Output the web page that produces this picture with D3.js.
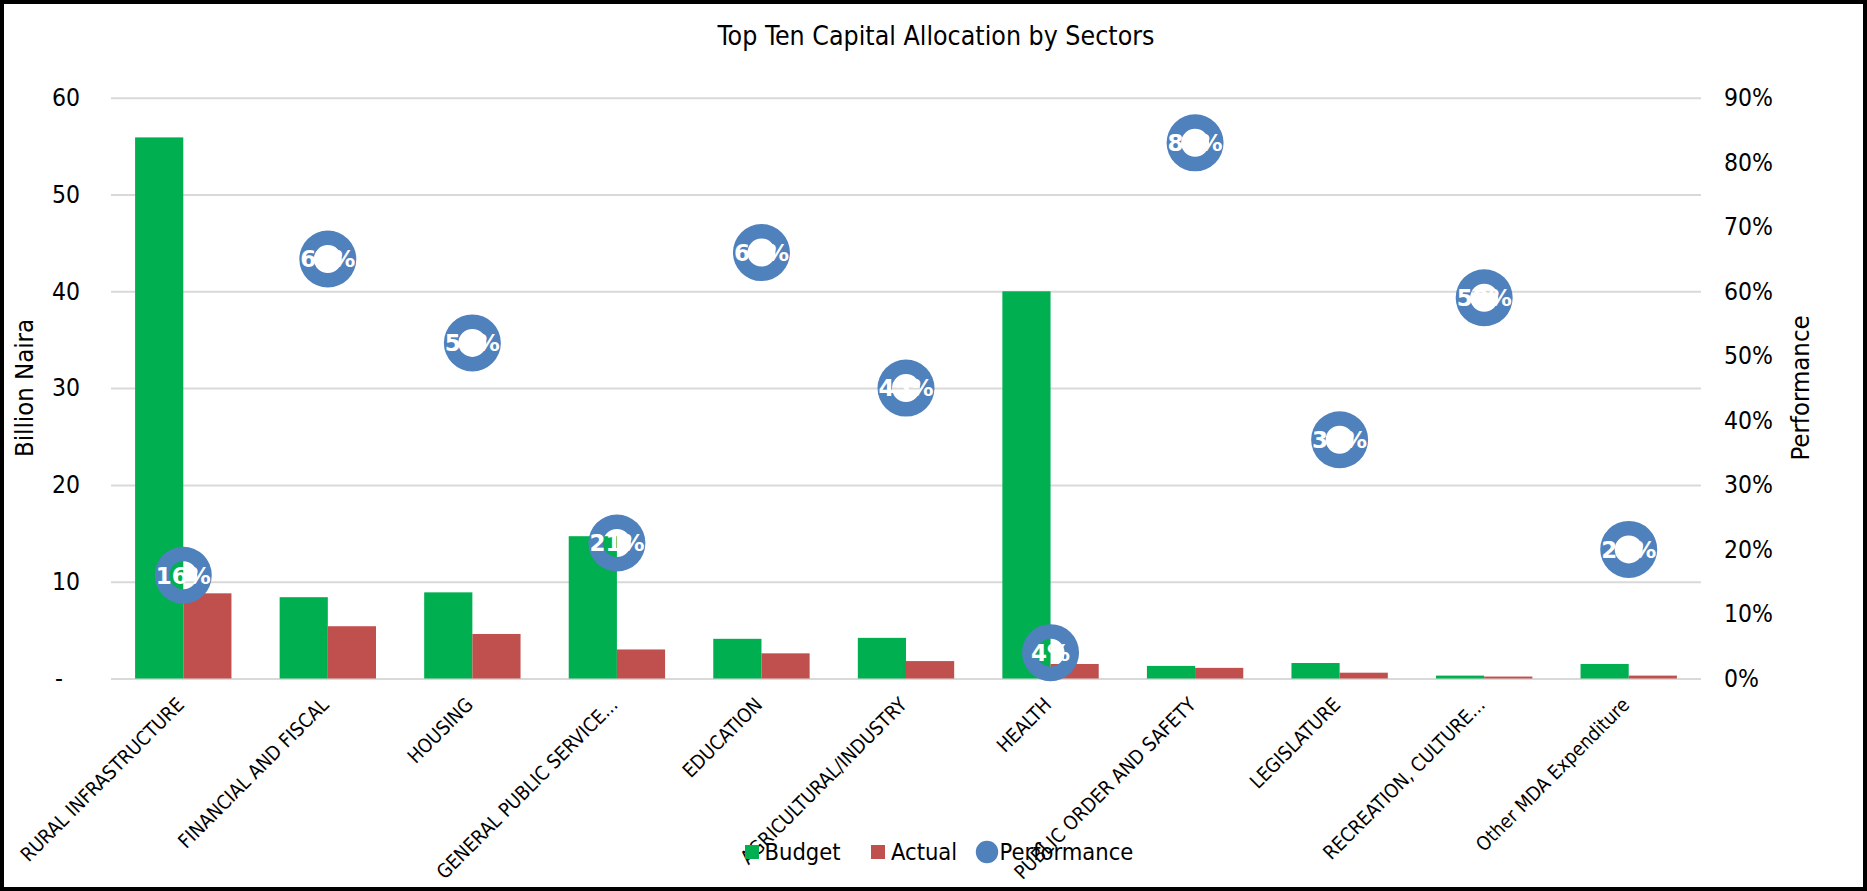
<!DOCTYPE html>
<html>
<head>
<meta charset="utf-8">
<script src="https://cdn.jsdelivr.net/npm/d3@7"></script>
<style>
  html, body { margin: 0; padding: 0; background: #fff; }
  svg { display: block; }
  text { font-family: "DejaVu Sans Condensed", "DejaVu Sans", sans-serif; font-stretch: condensed; fill: #000; }
</style>
</head>
<body>
<svg id="chart" width="1867" height="891"></svg>
<script>
// Sector capital allocation: budget vs actual (billion naira) and performance ratio
const categories = [
  "RURAL INFRASTRUCTURE",
  "FINANCIAL AND FISCAL",
  "HOUSING",
  "GENERAL PUBLIC SERVICE...",
  "EDUCATION",
  "AGRICULTURAL/INDUSTRY",
  "HEALTH",
  "PUBLIC ORDER AND SAFETY",
  "LEGISLATURE",
  "RECREATION, CULTURE...",
  "Other MDA Expenditure"
];
const budget = [55.9, 8.4, 8.9, 14.7, 4.1, 4.2, 40.0, 1.3, 1.6, 0.3, 1.5];
const actual = [8.8, 5.4, 4.6, 3.0, 2.6, 1.8, 1.5, 1.1, 0.6, 0.2, 0.3];
const performance = [0.16, 0.65, 0.52, 0.21, 0.66, 0.45, 0.04, 0.83, 0.37, 0.59, 0.20];
const seriesNames = ["Budget", "Actual", "Performance"];
const leftTicks = [0, 10, 20, 30, 40, 50, 60];
const rightTicks = [0, 0.1, 0.2, 0.3, 0.4, 0.5, 0.6, 0.7, 0.8, 0.9];

const colors = { Budget: "#00B050", Actual: "#C0504D", Performance: "#4F81BD" };

const W = 1867, H = 891;
const plot = { left: 111, right: 1701, top: 97.7, bottom: 678.5 };

const svg = d3.select("#chart");

// white page with a black frame
svg.append("rect").attr("x", 0).attr("y", 0).attr("width", W).attr("height", H).attr("fill", "#fff");

const x = d3.scaleBand().domain(categories).range([plot.left, plot.right])
  .paddingInner(1 / 3).paddingOuter(1 / 6);
const xs = d3.scaleBand().domain(["Budget", "Actual"]).range([0, x.bandwidth()]);
const y = d3.scaleLinear().domain([0, 60]).range([plot.bottom, plot.top]);
const yR = d3.scaleLinear().domain([0, 0.9]).range([plot.bottom, plot.top]);

// title
svg.append("text")
  .attr("x", 936).attr("y", 45)
  .attr("text-anchor", "middle")
  .style("font-size", "26.5px")
  .text("Top Ten Capital Allocation by Sectors");

// left axis with gridlines
const leftAxis = svg.append("g")
  .attr("transform", `translate(${plot.left},0)`)
  .call(d3.axisLeft(y).tickValues(leftTicks)
    .tickSize(-(plot.right - plot.left)).tickPadding(31)
    .tickFormat(d => d === 0 ? "-" : d3.format("d")(d)));
leftAxis.select(".domain").remove();
leftAxis.selectAll(".tick line").attr("stroke", "#d9d9d9").attr("stroke-width", 2);
leftAxis.selectAll(".tick text").style("font-size", "24.5px").attr("fill", "#000");
leftAxis.selectAll(".tick text").filter(d => d === 0).attr("dx", -17);

// right axis (performance)
const rightAxis = svg.append("g")
  .attr("transform", `translate(${plot.right},0)`)
  .call(d3.axisRight(yR).tickValues(rightTicks).tickSize(0).tickPadding(23)
    .tickFormat(d3.format(".0%")));
rightAxis.select(".domain").remove();
rightAxis.selectAll(".tick text").style("font-size", "24.5px").attr("fill", "#000");

// axis titles
svg.append("text")
  .attr("transform", "translate(33,388) rotate(-90)")
  .attr("text-anchor", "middle")
  .style("font-size", "25.5px")
  .text("Billion Naira");
svg.append("text")
  .attr("transform", "translate(1809,388) rotate(-90)")
  .attr("text-anchor", "middle")
  .style("font-size", "25.5px")
  .text("Performance");

// bars
const rows = categories.map((c, i) => ({ cat: c, Budget: budget[i], Actual: actual[i], perf: performance[i] }));
const groups = svg.append("g").selectAll("g").data(rows).join("g")
  .attr("transform", d => `translate(${x(d.cat)},0)`);
groups.selectAll("rect").data(d => ["Budget", "Actual"].map(k => ({ key: k, value: d[k] })))
  .join("rect")
  .attr("x", d => xs(d.key))
  .attr("width", xs.bandwidth())
  .attr("y", d => y(d.value))
  .attr("height", d => y(0) - y(d.value))
  .attr("fill", d => colors[d.key]);

// performance markers: ring with open centre
const ring = d3.arc().innerRadius(14).outerRadius(28.5).startAngle(0).endAngle(2 * Math.PI);
const markers = svg.append("g").selectAll("g").data(rows).join("g")
  .attr("transform", d => `translate(${x(d.cat) + x.bandwidth() / 2},${yR(d.perf)})`);
markers.append("path").attr("d", ring()).attr("fill", colors.Performance);
markers.append("text")
  .attr("text-anchor", "middle")
  .attr("dy", "0.36em")
  .style("font-size", "23px")
  .style("font-weight", "bold")
  .style("font-stretch", "normal")
  .style("font-family", "'DejaVu Sans', sans-serif")
  .style("fill", "#fff")
  .text(d => d3.format(".0%")(d.perf));

// category labels, rotated
svg.append("g").selectAll("text").data(categories).join("text")
  .attr("transform", d => `translate(${x(d) + x.bandwidth() / 2 + 2},706) rotate(-45)`)
  .attr("text-anchor", "end")
  .style("font-size", "19.5px")
  .text(d => d);

// legend
const legendItems = [
  { name: seriesNames[0], sx: 745, tx: 764.5, shape: "rect" },
  { name: seriesNames[1], sx: 871, tx: 891, shape: "rect" },
  { name: seriesNames[2], sx: 976, tx: 999.5, shape: "circle" }
];
const legend = svg.append("g");
legendItems.forEach(it => {
  if (it.shape === "rect") {
    legend.append("rect").attr("x", it.sx).attr("y", 845).attr("width", 14).attr("height", 14)
      .attr("fill", colors[it.name]);
  } else {
    legend.append("circle").attr("cx", it.sx + 11).attr("cy", 852).attr("r", 11.2)
      .attr("fill", colors[it.name]);
  }
  legend.append("text").attr("x", it.tx).attr("y", 860)
    .style("font-size", "23.5px").text(it.name);
});

// outer frame
svg.append("rect").attr("x", 2).attr("y", 2).attr("width", W - 4).attr("height", H - 4)
  .attr("fill", "none").attr("stroke", "#000").attr("stroke-width", 4);
</script>
</body>
</html>
